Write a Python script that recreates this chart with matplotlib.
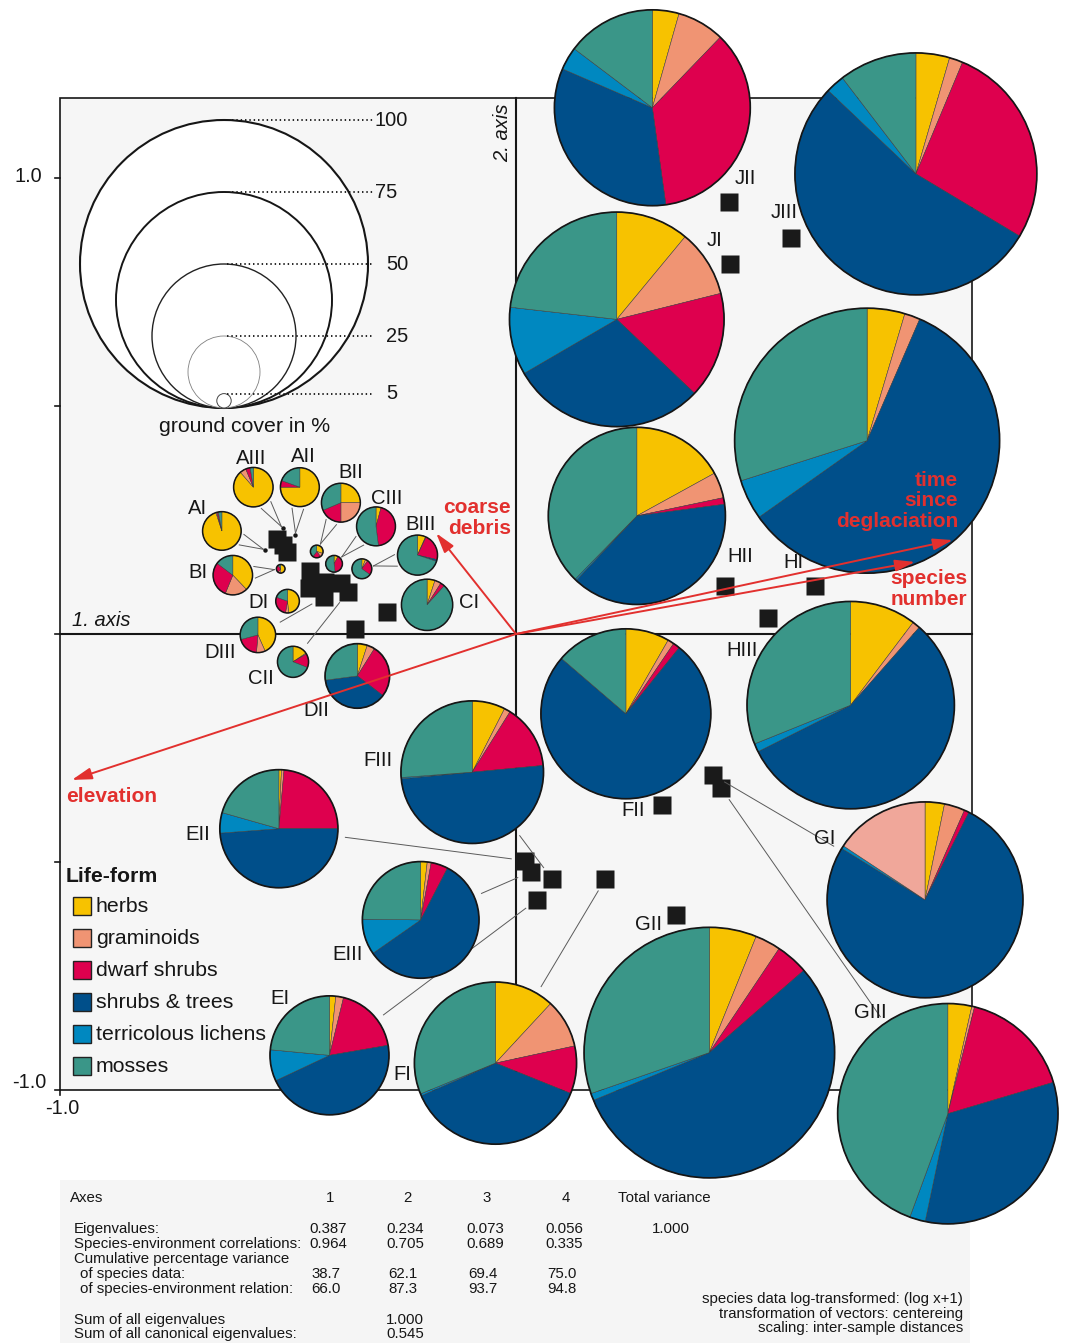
import math
from matplotlib import pyplot as plt
from matplotlib.patches import Circle, Rectangle

plt.rcParams['font.family'] = ['Liberation Sans', 'DejaVu Sans']

# life-form classes and their fill colours
life_forms = ['herbs', 'graminoids', 'dwarf shrubs', 'shrubs & trees', 'terricolous lichens', 'mosses']
life_colours = ['#F7C200', '#F09473', '#DE004E', '#004F8A', '#0088C0', '#3A9688']
# GI has its moss share printed in a pale rose
moss_colour_override = {'GI': '#F0A79A'}

# plots: total ground cover (%) and share of every life-form (%)
plots = ['JII', 'JIII', 'JI', 'HI', 'HII', 'HIII', 'FII', 'GI', 'GII', 'GIII',
         'FIII', 'EII', 'EIII', 'EI', 'FI', 'DII',
         'AIII', 'AII', 'AI', 'BII', 'CIII', 'BIII', 'CI', 'BI', 'DI', 'DIII', 'CII',
         'p1', 'p2', 'p3', 'p4']
cover = [68, 84, 74.5, 92, 61.5, 72, 59, 68, 87, 76.5,
         49.5, 41, 40.5, 41.3, 56.3, 22.4,
         13.7, 13.5, 13.4, 13.5, 13.5, 13.9, 17.8, 13.7, 8.2, 12.3, 10.8,
         3.0, 4.4, 5.8, 6.9]
herbs = [4.4, 4.5, 11.0, 4.6, 17.0, 10.3, 8.3, 3.2, 6.1, 3.5,
         7.5, 0.7, 1.8, 1.7, 11.9, 5.0,
         88.6, 75.0, 95.0, 25.0, 4.2, 6.6, 5.0, 37.9, 48.6, 43.3, 15.6,
         50, 30, 8, 6]
graminoids = [7.8, 1.8, 10.1, 1.9, 4.7, 1.2, 1.2, 3.4, 3.3, 0.4,
              1.4, 0.7, 1.1, 2.1, 9.7, 3.9,
              5.1, 0, 0.8, 25.0, 0, 0.5, 4.0, 18.3, 4.2, 8.0, 1.0,
              10, 10, 0, 4]
dwarf_shrubs = [35.6, 27.3, 16.0, 0, 1.2, 0, 1.3, 0.8, 4.2, 16.5,
                14.6, 23.6, 4.7, 18.5, 9.5, 26.5,
                3.7, 5.5, 1.2, 18.6, 43.8, 21.5, 2.7, 29.1, 27.7, 19.5, 14.4,
                30, 20, 40, 25]
shrubs_trees = [33.7, 53.5, 29.5, 58.7, 39.1, 56.1, 75.5, 76.4, 55.2, 32.9,
                50.0, 48.8, 57.7, 45.7, 37.3, 37.5,
                0, 0, 0, 0, 0, 1.5, 0, 0, 0, 0, 0,
                0, 0, 0, 0]
lichens = [3.8, 2.5, 10.2, 4.9, 0.3, 1.3, 0, 0.5, 0.9, 2.3,
           0.3, 5.6, 9.9, 8.5, 0.4, 0,
           0, 0, 0, 0, 0, 0, 0, 0, 0, 0, 0,
           0, 0, 0, 0]
mosses = [14.7, 10.4, 23.2, 29.9, 37.7, 31.1, 13.7, 15.7, 30.3, 44.4,
          26.2, 20.6, 24.8, 23.5, 31.2, 27.1,
          2.6, 19.5, 3.0, 31.4, 52.0, 69.9, 88.3, 14.7, 19.5, 29.2, 69.0,
          10, 40, 52, 65]

# where each pie sits in the ordination plane
pie_x = [0.299, 0.877, 0.221, 0.770, 0.265, 0.734, 0.241, 0.897, 0.424, 0.947,
         -0.096, -0.520, -0.209, -0.409, -0.045, -0.348,
         -0.576, -0.474, -0.645, -0.384, -0.307, -0.216, -0.195, -0.621, -0.501, -0.566, -0.489,
         -0.516, -0.437, -0.399, -0.338]
pie_y = [1.154, 1.009, 0.690, 0.424, 0.259, -0.156, -0.175, -0.583, -0.918, -1.052,
         -0.303, -0.427, -0.627, -0.924, -0.941, -0.092,
         0.322, 0.322, 0.226, 0.288, 0.236, 0.173, 0.064, 0.129, 0.072, -0.002, -0.061,
         0.143, 0.181, 0.154, 0.143]

# sample scores (CCA axes 1 and 2)
site_x = [0.467, 0.602, 0.470, 0.459, 0.655, 0.552, 0.320, 0.431, 0.450, 0.351,
          0.196, 0.079, 0.020, 0.032, 0.046, -0.282, -0.354,
          -0.452, -0.454, -0.419, -0.421, -0.383, -0.368, -0.525, -0.510, -0.503]
site_y = [0.947, 0.868, 0.811, 0.105, 0.105, 0.036, -0.374, -0.309, -0.338, -0.616,
          -0.537, -0.537, -0.497, -0.522, -0.583, 0.048, 0.010,
          0.138, 0.100, 0.114, 0.081, 0.111, 0.093, 0.208, 0.195, 0.180]

# environmental vectors
env_names = ['elevation', 'coarse\ndebris', 'time\nsince\ndeglaciation', 'species\nnumber']
env_x = [-0.974, -0.175, 0.958, 0.875]
env_y = [-0.320, 0.221, 0.206, 0.158]

# summary of the ordination
axes_no = ['1', '2', '3', '4']
eigenvalues = ['0.387', '0.234', '0.073', '0.056']
sp_env_corr = ['0.964', '0.705', '0.689', '0.335']
cum_species = ['38.7', '62.1', '69.4', '75.0']
cum_relation = ['66.0', '87.3', '93.7', '94.8']
total_variance = '1.000'
sum_eigen = '1.000'
sum_canonical = '0.545'

cover_key = [100, 75, 50, 25, 5]

# ---- page layout (pixel positions on the page) ----
W, H = 1067, 1343
X0, Y0, S = 516, 634, 456   # origin of the ordination and pixels per unit


def page(px, py):
    return (px - X0) / S, (Y0 - py) / S


R1 = 1.44 / S   # pie radius per % ground cover
RED = '#E2302E'
INK = '#161616'

label_at = {'JII': (745, 178), 'JIII': (784, 213), 'JI': (715, 241), 'HII': (740, 556),
            'HI': (793, 562), 'HIII': (742, 650), 'FII': (633, 811), 'GI': (825, 839),
            'GII': (649, 924), 'GIII': (870, 1013), 'FIII': (378, 760), 'EII': (198, 835),
            'EIII': (348, 955), 'EI': (280, 998), 'FI': (402, 1075), 'DII': (316, 711),
            'CII': (261, 679), 'DIII': (220, 652), 'DI': (259, 603), 'BI': (198, 573),
            'AI': (198, 509), 'AIII': (251, 458), 'AII': (303, 457), 'BII': (351, 472),
            'CIII': (387, 498), 'BIII': (421, 524), 'CI': (469, 603)}

# leader lines from a pie to its sample square
leaders = {'FIII': 11, 'EII': 12, 'EIII': 13, 'EI': 14, 'FI': 10, 'GI': 7, 'GIII': 8,
           'DIII': 20, 'CII': 22}
# paired leaders of the small pies, ending on a dot or on a small pie
v_dots = {'AIII': (-0.512, 0.232), 'AII': (-0.484, 0.217), 'AI': (-0.550, 0.184)}
v_pies = {'BI': 'p1', 'BII': 'p2', 'CIII': 'p3', 'BIII': 'p4'}

fig = plt.figure(figsize=(W / 100, H / 100), dpi=100)
ax = fig.add_axes([0, 0, 1, 1])

# plot frame with light background
bx0, by1 = page(60, 98)
ax.add_patch(Rectangle((-1, -1), 2, by1 + 1, fc='#F6F6F6', ec=INK, lw=1.2, zorder=1))
ax.plot([0, 0], [-1, by1], color=INK, lw=1.5, zorder=2)
ax.plot([-1, 1], [0, 0], color=INK, lw=1.5, zorder=2)
for t in [1.0, 0.5, 0.0, -0.5, -1.0]:
    ax.plot([-1.012, -1], [t, t], color=INK, lw=1.2, zorder=2)
ax.plot([-1, -1], [-1.012, -1], color=INK, lw=1.2, zorder=2)
ax.text(*page(42, 176), '1.0', ha='right', va='center', fontsize=14.3, color=INK)
ax.text(*page(46, 1083), '-1.0', ha='right', va='center', fontsize=14.3, color=INK)
ax.text(*page(62, 1108), '-1.0', ha='center', va='center', fontsize=14.3, color=INK)
ax.text(*page(72, 621), '1. axis', ha='left', va='center', fontsize=14.5, style='italic', color=INK)
ax.text(*page(503, 133), '2. axis', ha='center', va='center', fontsize=14.5, style='italic',
        rotation=90, color=INK)

# ground cover key
kx, kb = page(224, 408)
key_lw = [1.5, 1.4, 1.0, 0.6, 0.7]
key_ec = [INK, INK, '#222222', '#808080', '#444444']
key_text_x = [375, 375, 386, 386, 386]
for c, lw, ec, tx in zip(cover_key, key_lw, key_ec, key_text_x):
    r = c * R1
    ax.add_patch(Circle((kx, kb + r), r, fc='white', ec=ec, lw=lw, zorder=2))
for c, tx in zip(cover_key, key_text_x):
    top = kb + 2 * c * R1
    x_start = kx + (8 if c >= 75 else 3) / S
    ax.plot([x_start, page(373, 0)[0]], [top, top], color=INK, lw=1.3,
            ls=(0, (0.8, 1.6)), zorder=3)
    ax.text(page(tx, 0)[0], top, str(c), ha='left', va='center', fontsize=14.4, color=INK, zorder=3)
ax.text(*page(245, 427), 'ground cover in %', ha='center', va='center', fontsize=15.3, color=INK)

# sample squares
ax.plot(site_x, site_y, 's', ms=12.6, color='#1A1A1A', mec='none', zorder=3)
ax.plot([p[0] for p in v_dots.values()], [p[1] for p in v_dots.values()], 'o',
        ms=3.2, color=INK, mec='none', zorder=3)


def draw_line(x0, y0, x1, y1):
    ax.plot([x0, x1], [y0, y1], color='#5A5A5A', lw=0.7, zorder=3.5)


for name, k in leaders.items():
    i = plots.index(name)
    cx, cy, r = pie_x[i], pie_y[i], cover[i] * R1
    tx, ty = site_x[k], site_y[k]
    a = math.atan2(ty - cy, tx - cx)
    s0 = r + 8 / S
    s1 = 14 / S
    draw_line(cx + s0 * math.cos(a), cy + s0 * math.sin(a),
              tx - s1 * math.cos(a), ty - s1 * math.sin(a))

v_targets = dict(v_dots)
for name, other in v_pies.items():
    j = plots.index(other)
    v_targets[name] = (pie_x[j], pie_y[j], cover[j] * R1 + 2 / S)
for name, tgt in v_targets.items():
    i = plots.index(name)
    cx, cy, r = pie_x[i], pie_y[i], cover[i] * R1
    tx, ty = tgt[0], tgt[1]
    tr = tgt[2] if len(tgt) > 2 else 2 / S
    a = math.atan2(ty - cy, tx - cx)
    ex, ey = tx - tr * math.cos(a), ty - tr * math.sin(a)
    for da in (-0.26, 0.26):
        s0 = r + 3 / S
        draw_line(cx + s0 * math.cos(a + da), cy + s0 * math.sin(a + da), ex, ey)

# pies: clockwise from twelve o'clock
for i, name in enumerate(plots):
    shares = [herbs[i], graminoids[i], dwarf_shrubs[i], shrubs_trees[i], lichens[i], mosses[i]]
    colours = list(life_colours)
    if name in moss_colour_override:
        colours[5] = moss_colour_override[name]
    vals = [v for v in shares if v > 0]
    cols = [c for v, c in zip(shares, colours) if v > 0]
    r = cover[i] * R1
    z = 4 + i * 0.01
    ax.pie(vals, colors=cols, center=(pie_x[i], pie_y[i]), radius=r, startangle=90,
           counterclock=False, frame=True,
           wedgeprops=dict(edgecolor='#3A3A3A', linewidth=0.35, zorder=z))
    ax.add_patch(Circle((pie_x[i], pie_y[i]), r, fill=False, ec=INK,
                        lw=1.25 if cover[i] > 20 else 1.1, zorder=z + 0.005))

for name, (px, py) in label_at.items():
    ax.text(*page(px, py), name, ha='center', va='center', fontsize=14.6, color=INK, zorder=6)

# environmental arrows
for vx, vy in zip(env_x, env_y):
    ax.annotate('', xy=(vx, vy), xytext=(0, 0), zorder=7,
                arrowprops=dict(arrowstyle='-|>,head_length=0.75,head_width=0.22',
                                mutation_scale=16, color=RED, lw=1.4,
                                shrinkA=0, shrinkB=0))
env_label_at = [(66, 797, 'left'), (511, 518, 'right'), (958, 501, 'right'), (967, 589, 'right')]
for txt, (px, py, ha) in zip(env_names, env_label_at):
    ax.text(*page(px, py), txt, ha=ha, va='center', fontsize=15, fontweight='bold',
            color=RED, linespacing=1.1, zorder=8)

# life-form legend
ax.text(*page(66, 876), 'Life-form', ha='left', va='center', fontsize=15.3,
        fontweight='bold', color=INK)
sw = 18 / S
for k, (lf, col) in enumerate(zip(life_forms, life_colours)):
    yc = 906 + 32 * k
    x0, y0 = page(73, yc + 9)
    ax.add_patch(Rectangle((x0, y0), sw, sw, fc=col, ec='#222222', lw=1.0, zorder=3))
    ax.text(*page(96, yc), lf, ha='left', va='center', fontsize=15.3, color=INK, zorder=3)

# summary table
tx0, ty0 = page(60, 1180)
ax.add_patch(Rectangle((tx0, page(0, H)[1]), page(970, 0)[0] - tx0, ty0 - page(0, H)[1],
                       fc='#F5F5F5', ec='none', zorder=0.5))
tfs = 10.8
col_x = [328, 405, 485, 564]


def tline(px, py, s, ha='left'):
    ax.text(*page(px, py), s, ha=ha, va='baseline', fontsize=tfs, color=INK, zorder=2)


tline(70, 1202, 'Axes')
for cx, s in zip(col_x, axes_no):
    tline(cx + 2, 1202, s, 'center')
tline(618, 1202, 'Total variance')
tline(74, 1233, 'Eigenvalues:')
tline(74, 1248, 'Species-environment correlations:')
tline(74, 1263, 'Cumulative percentage variance')
tline(80, 1278, 'of species data:')
tline(80, 1293, 'of species-environment relation:')
for cx, a, b, c, d in zip(col_x, eigenvalues, sp_env_corr, cum_species, cum_relation):
    tline(cx, 1233, a, 'center')
    tline(cx, 1248, b, 'center')
    tline(cx - 2, 1278, c, 'center')
    tline(cx - 2, 1293, d, 'center')
tline(671, 1233, total_variance, 'center')
tline(74, 1324, 'Sum of all eigenvalues')
tline(74, 1338, 'Sum of all canonical eigenvalues:')
tline(405, 1324, sum_eigen, 'center')
tline(405, 1338, sum_canonical, 'center')
tline(963, 1303, 'species data log-transformed: (log x+1)', 'right')
tline(963, 1318, 'transformation of vectors: centereing', 'right')
tline(963, 1332, 'scaling: inter-sample distances', 'right')

xl = page(0, 0)[0], page(W, 0)[0]
yl = page(0, H)[1], page(0, 0)[1]
ax.set_xlim(*xl)
ax.set_ylim(*yl)
ax.set_aspect('auto')
ax.axis('off')
fig.savefig('out.png', dpi=100, facecolor='white')
